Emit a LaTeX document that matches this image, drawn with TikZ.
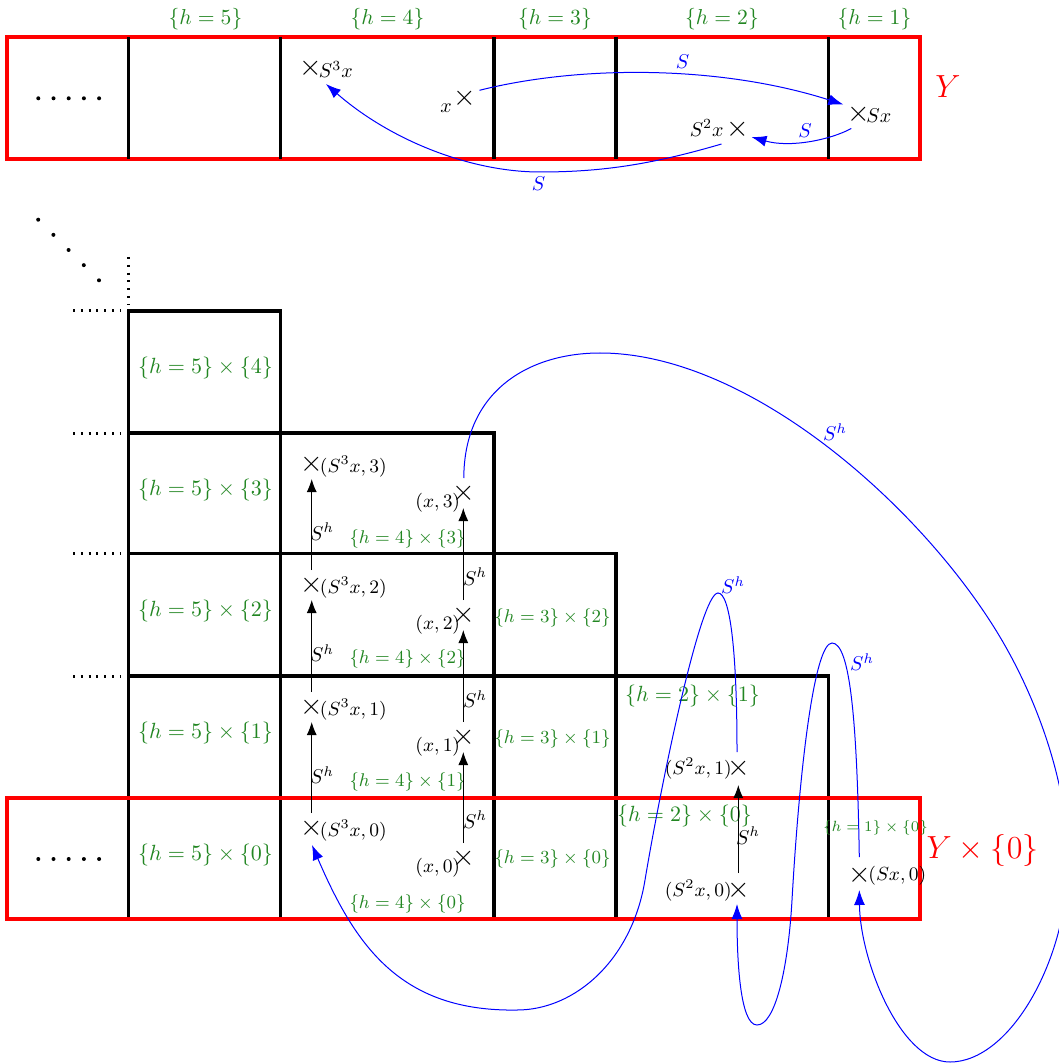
\RequirePackage{fix-cm}
\documentclass[tikz,border=0pt]{standalone}
\usetikzlibrary{arrows.meta,calc}
\definecolor{grn}{RGB}{34,134,34}
\begin{document}
\begin{tikzpicture}[x=0.5pt,y=-0.5pt,
  gridline/.style={line width=1.6pt,line join=miter},
  redbox/.style={red,line width=2pt},
  cross/.style={inner sep=0pt,font=\fontsize{14.5}{17}\selectfont},
  lbl/.style={inner sep=0pt,font=\fontsize{9.5}{11}\selectfont},
  lbltop/.style={inner sep=0pt,font=\fontsize{10}{12}\selectfont},
  shlbl/.style={inner sep=0pt,font=\fontsize{10}{12}\selectfont},
  gtop/.style={inner sep=0pt,text=grn,font=\fontsize{10.8}{13}\selectfont},
  gbig/.style={inner sep=0pt,text=grn,font=\fontsize{11}{13}\selectfont},
  gmid/.style={inner sep=0pt,text=grn,font=\fontsize{9.2}{11}\selectfont},
  gtiny/.style={inner sep=0pt,text=grn,font=\fontsize{7.4}{9}\selectfont},
  ylbl/.style={inner sep=0pt,text=red,font=\fontsize{16}{19}\selectfont},
  blbl/.style={inner sep=0pt,text=blue,font=\fontsize{10}{12}\selectfont},
  harr/.style={line width=0.5pt,-{Latex[length=6.5pt,width=5pt]},shorten <=7.5pt,shorten >=7.5pt},
  barr/.style={blue,line width=0.5pt,-{Latex[length=7.5pt,width=5.5pt]}},
  dotline/.style={line width=1.5pt,dash pattern=on 1pt off 2.9pt},
]
\useasboundingbox (0,0) rectangle (1058,1063);

% ---------- top strip Y ----------
\draw[redbox] (7,37) rectangle (920,159);
\foreach \xx in {128.5,280.5,494,616,828.5}
  \draw[gridline] (\xx,37) -- (\xx,159);
\foreach \i in {0,...,4} \fill ({38.3+15.2*\i},98.3) circle (2);

\node[gtop] (th5) at (205.5,18.8) {$\{h=5\}$};
\node[gtop] (th4) at (387.5,18.8) {$\{h=4\}$};
\node[gtop] (th3) at (555,18.8) {$\{h=3\}$};
\node[gtop] (th2) at (722,18.8) {$\{h=2\}$};
\node[gtop] (th1) at (874.5,18.8) {$\{h=1\}$};
\node[ylbl] (Ylab) at (948,86.7) {$Y$};

\node[cross] (tS3) at (311,68) {$\times$};
\node[cross] (tx) at (464.5,98.3) {$\times$};
\node[cross] (tS2) at (737.5,129) {$\times$};
\node[cross] (tS1) at (858.3,114.5) {$\times$};
\node[lbltop,anchor=west] (tS3l) at (318.5,69.5) {$S^3x$};
\node[lbltop] (txl) at (446,108) {$x$};
\node[lbltop,anchor=east] (tS2l) at (724,128) {$S^2x$};
\node[lbltop,anchor=west] (tS1l) at (866,115.5) {$Sx$};

\draw[barr] ($(tx.center)+(15,-8)$) .. controls (580,65) and (720,65) .. ($(tS1.center)+(-15,-10)$);
\draw[barr] ($(tS1.center)+(-7,14)$) .. controls (830,140) and (790,148) .. ($(tS2.center)+(14,8)$);
\draw[barr] ($(tS2.center)+(-16,15)$) .. controls (650,165) and (600,172) .. (540,172)
   .. controls (470,172) and (390,140) .. ($(tS3.center)+(15,16)$);
\node[blbl] (sA) at (682.5,61.7) {$S$};
\node[blbl] (sB) at (805,130.8) {$S$};
\node[blbl] (sC) at (538.5,184) {$S$};

% ---------- tower ----------
\foreach \i in {0,...,4} \fill ({38.2+15.2*\i},{219.7+15.15*\i}) circle (2);
\draw[dotline] (128.5,257) -- (128.5,304);
\foreach \yy in {311,433,553.5,676}
  \draw[dotline] (73,\yy) -- (121,\yy);

\draw[gridline] (128.5,919) -- (128.5,311) -- (280.5,311) -- (280.5,919);
\draw[gridline] (128.5,433) -- (494,433) -- (494,919);
\draw[gridline] (128.5,553.5) -- (616,553.5) -- (616,919);
\draw[gridline] (128.5,676) -- (828.5,676) -- (828.5,919);
\draw[redbox] (7,797.5) rectangle (920,919);
\foreach \i in {0,...,4} \fill ({38.3+15.2*\i},859) circle (2);
\node[ylbl] (Y0lab) at (982.5,850.5) {$Y\times\{0\}$};

% green cell labels
\node[gbig] (g54) at (205.5,368.3) {$\{h=5\}\times\{4\}$};
\node[gbig] (g53) at (205.5,490) {$\{h=5\}\times\{3\}$};
\node[gbig] (g52) at (205.5,611) {$\{h=5\}\times\{2\}$};
\node[gbig] (g51) at (205.5,733) {$\{h=5\}\times\{1\}$};
\node[gbig] (g50) at (205.5,854.7) {$\{h=5\}\times\{0\}$};
\node[gmid] (g43) at (407.5,538.5) {$\{h=4\}\times\{3\}$};
\node[gmid] (g42) at (407.5,658.5) {$\{h=4\}\times\{2\}$};
\node[gmid] (g41) at (407.5,782) {$\{h=4\}\times\{1\}$};
\node[gmid] (g40) at (407.5,903.5) {$\{h=4\}\times\{0\}$};
\node[gmid] (g32) at (552.5,617.5) {$\{h=3\}\times\{2\}$};
\node[gmid] (g31) at (552.5,739) {$\{h=3\}\times\{1\}$};
\node[gmid] (g30) at (552.5,859) {$\{h=3\}\times\{0\}$};
\node[gbig] (g21) at (692.5,695.8) {$\{h=2\}\times\{1\}$};
\node[gbig] (g20) at (684.5,816) {$\{h=2\}\times\{0\}$};
\node[gtiny] (g10) at (875.5,827.5) {$\{h=1\}\times\{0\}$};

% crosses
\node[cross] (A3) at (311.7,464) {$\times$};
\node[cross] (A2) at (311.7,585) {$\times$};
\node[cross] (A1) at (311.7,707) {$\times$};
\node[cross] (A0) at (311.7,828) {$\times$};
\node[cross] (B3) at (463.3,493) {$\times$};
\node[cross] (B2) at (463.3,615) {$\times$};
\node[cross] (B1) at (463.3,737) {$\times$};
\node[cross] (B0) at (463.3,858) {$\times$};
\node[cross] (C1) at (738.3,768) {$\times$};
\node[cross] (C0) at (738.3,890) {$\times$};
\node[cross] (D0) at (859.3,875) {$\times$};

\node[lbl,anchor=west] (A3l) at (319.5,467) {$(S^3x,3)$};
\node[lbl,anchor=west] (A2l) at (319.5,588) {$(S^3x,2)$};
\node[lbl,anchor=west] (A1l) at (319.5,709.5) {$(S^3x,1)$};
\node[lbl,anchor=west] (A0l) at (319.5,831) {$(S^3x,0)$};
\node[lbl,anchor=east] (B3l) at (460.5,503) {$(x,3)$};
\node[lbl,anchor=east] (B2l) at (460.5,625) {$(x,2)$};
\node[lbl,anchor=east] (B1l) at (460.5,747) {$(x,1)$};
\node[lbl,anchor=east] (B0l) at (460.5,868) {$(x,0)$};
\node[lbl,anchor=east] (C1l) at (732,769) {$(S^2x,1)$};
\node[lbl,anchor=east] (C0l) at (732,891) {$(S^2x,0)$};
\node[lbl,anchor=west] (D0l) at (868,876) {$(Sx,0)$};

% black S^h arrows
\draw[harr] (A0.center) -- (A1.center);
\draw[harr] (A1.center) -- (A2.center);
\draw[harr] (A2.center) -- (A3.center);
\draw[harr] (B0.center) -- (B1.center);
\draw[harr] (B1.center) -- (B2.center);
\draw[harr] (B2.center) -- (B3.center);
\draw[harr,shorten <=8.5pt,shorten >=8.5pt] (C0.center) -- (C1.center);
\node[shlbl] (ha1) at (322,531.7) {$S^h$};
\node[shlbl] (ha2) at (322,653) {$S^h$};
\node[shlbl] (ha3) at (322,775) {$S^h$};
\node[shlbl] (hb1) at (475,576.7) {$S^h$};
\node[shlbl] (hb2) at (475,699.5) {$S^h$};
\node[shlbl] (hb3) at (475,819.5) {$S^h$};
\node[shlbl] (hc1) at (748,835.5) {$S^h$};

% blue S^h loops
\draw[barr] ($(B3.center)+(0.5,-15)$) .. controls (464,390) and (530,353) .. (600,353)
   .. controls (750,353) and (923,508) .. (1000,637)
   .. controls (1041,706) and (1068,790) .. (1068,860)
   .. controls (1068,960) and (1010,1062) .. (950,1062)
   .. controls (900,1062) and (860,960) .. ($(D0.center)+(0,15)$);
\draw[barr] ($(C1.center)+(-1.3,-16)$) .. controls (737,650) and (730,593) .. (718,593)
   .. controls (700,593) and (660,790) .. (645,880)
   .. controls (632,960) and (575,1010) .. (517,1010)
   .. controls (400,1012) and (355,945) .. ($(A0.center)+(0.3,17)$);
\draw[barr] ($(D0.center)+(0,-18)$) .. controls (857,720) and (850,643) .. (832,643)
   .. controls (815,643) and (800,760) .. (792,900)
   .. controls (788,970) and (775,1025) .. (757,1025)
   .. controls (740,1025) and (737,960) .. ($(C0.center)+(-1.3,14)$);
\node[blbl] (shA) at (835,432.5) {$S^h$};
\node[blbl] (shB) at (733,585.5) {$S^h$};
\node[blbl] (shC) at (862,662.5) {$S^h$};
\end{tikzpicture}
\end{document}
